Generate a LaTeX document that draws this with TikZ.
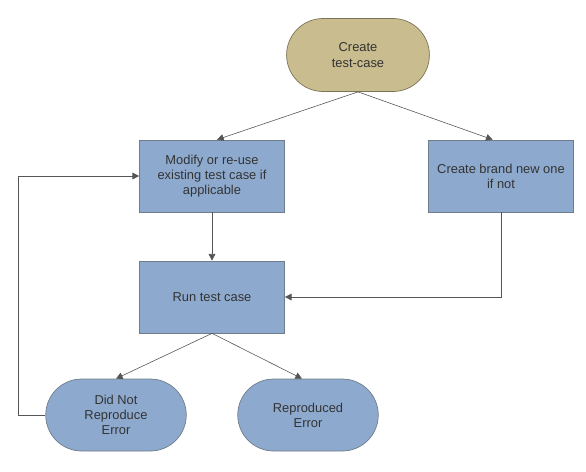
\documentclass[tikz,border=0pt]{standalone}
\usepackage{fontspec}
\setmainfont{Liberation Sans}
\usepackage{xcolor}
\definecolor{BoxBlue}{HTML}{8DAACE}
\definecolor{BoxLine}{HTML}{6F7C8C}
\definecolor{StartTan}{HTML}{C9BC8E}
\definecolor{StartLine}{HTML}{7D7457}
\definecolor{TextDark}{HTML}{333333}
\definecolor{LinkGray}{HTML}{555555}
\usetikzlibrary{positioning,calc,arrows.meta,shapes.misc}
\tikzset{
  bx/.style={draw=BoxLine,fill=BoxBlue,line width=0.6pt,minimum width=4.35cm,
    minimum height=2.16cm,align=center,font=\fontsize{11}{13}\selectfont,text=TextDark},
  pill/.style={bx,rounded rectangle,minimum width=4.45cm},
  pillst/.style={pill,fill=StartTan,draw=StartLine,minimum width=4.52cm,minimum height=2.19cm},
  flow/.style={-{Triangle[length=2mm,width=2mm]},draw=LinkGray,line width=0.5pt},
}

\begin{document}
\begin{tikzpicture}[x=1cm,y=1cm]
\useasboundingbox (0,0) rectangle (17.58,-14.13);
\node[pillst] (ct)  at (10.74,-1.65)  {Create\\test-case};
\node[bx]     (mod) at (6.36,-5.28)   {Modify or re-use\\existing test case if\\applicable};
\node[bx]     (bn)  at (15.03,-5.28)  {Create brand new one\\if not};
\node[bx]     (run) at (6.36,-8.91)   {Run test case};
\node[pill]   (dnr) at (3.48,-12.45)  {Did Not\\Reproduce\\Error};
\node[pill]   (rep) at (9.24,-12.45)  {Reproduced\\Error};

\draw[flow] (ct.south) -- ($(mod.north)+(0.15,0)$);
\draw[flow] (ct.south) -- ($(bn.north)+(-0.25,0)$);
\draw[flow] (mod.south) -- (run.north);
\draw[flow] (bn.south) |- (run.east);
\draw[flow] (run.south) -- (dnr.north);
\draw[flow] (run.south) -- ($(rep.north)+(-0.18,0)$);
\coordinate (back) at (0.54,0);
\draw[flow] (dnr.west) -| (back |- mod.west) -- (mod.west);
\end{tikzpicture}
\end{document}
